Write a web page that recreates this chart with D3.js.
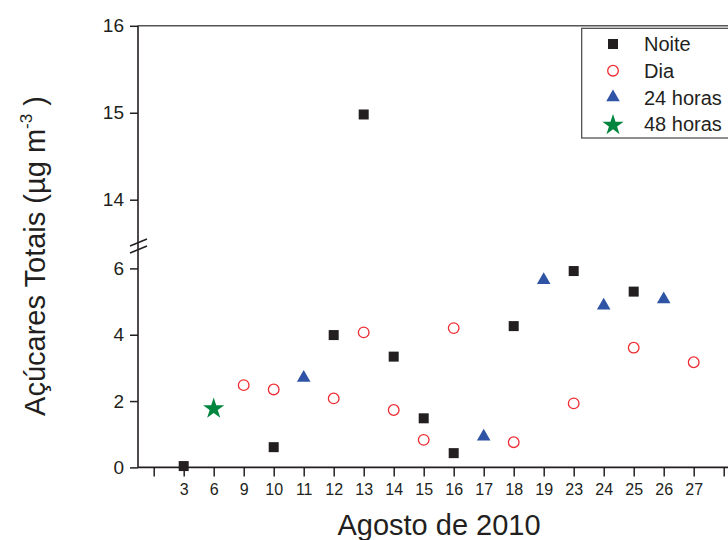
<!DOCTYPE html>
<html><head><meta charset="utf-8">
<script src="https://cdn.jsdelivr.net/npm/d3@7"></script>
<style>body{margin:0;background:#fff}svg{display:block}text{font-family:"Liberation Sans",Arial,sans-serif;fill:#231f20}</style>
</head><body>
<svg id="c" width="728" height="540"></svg>
<script>
const categories = ["3","6","9","10","11","12","13","14","15","16","17","18","19","23","24","25","26","27"];
const noiteDays = ["3","10","12","13","14","15","16","18","23","25"];
const noiteVals = [0.04, 0.61, 3.99, 14.98, 3.34, 1.48, 0.43, 4.26, 5.92, 5.30];
const diaDays = ["9","10","12","13","14","15","16","18","23","25","27"];
const diaVals = [2.48, 2.35, 2.08, 4.07, 1.73, 0.83, 4.20, 0.76, 1.93, 3.61, 3.17];
const h24Days = ["11","17","19","24","26"];
const h24Vals = [2.70, 0.93, 5.65, 4.88, 5.07];
const h48Days = ["6"];
const h48Vals = [1.80];
const lowerTicks = [0, 2, 4, 6];
const upperTicks = [14, 15, 16];
const legendLabels = ["Noite", "Dia", "24 horas", "48 horas"];

const svg = d3.select("#c");
const ink = "#231f20";
const axisX = 138;

const domainX = ["_a", ...categories, "_b"];
const x = d3.scalePoint().domain(domainX).range([153.7, 723.7]);
const yLow = d3.scaleLinear().domain([0, 6]).range([467.4, 268.4]);
const yUp = d3.scaleLinear().domain([14, 16]).range([199.7, 25.8]);
const y = v => v >= 10 ? yUp(v) : yLow(v);

// top frame line
svg.append("line").attr("x1", axisX).attr("x2", 728).attr("y1", yUp(16)).attr("y2", yUp(16))
  .attr("stroke", "#555").attr("stroke-width", 1.4);

// x axis
const xa = svg.append("g").attr("transform", `translate(0,${yLow(0)})`)
  .call(d3.axisBottom(x).tickSize(9).tickPadding(7).tickFormat(d => d.startsWith("_") ? "" : d));
xa.select(".domain").remove();
xa.selectAll(".tick line").attr("stroke", ink).attr("stroke-width", 1.5);
xa.selectAll(".tick text").attr("font-size", 16).style("font-family", "Liberation Sans, Arial, sans-serif").attr("fill", ink);
svg.append("line").attr("x1", axisX).attr("x2", 728).attr("y1", yLow(0)).attr("y2", yLow(0))
  .attr("stroke", ink).attr("stroke-width", 1.6);

// y axes
function styleY(g) {
  g.select(".domain").remove();
  g.selectAll(".tick line").attr("stroke", ink).attr("stroke-width", 1.5);
  g.selectAll(".tick text").attr("font-size", 19).style("font-family", "Liberation Sans, Arial, sans-serif").attr("fill", ink);
}
svg.append("g").attr("transform", `translate(${axisX},0)`)
  .call(d3.axisLeft(yLow).tickValues(lowerTicks).tickSize(8).tickPadding(6).tickFormat(d3.format("d"))).call(styleY);
svg.append("g").attr("transform", `translate(${axisX},0)`)
  .call(d3.axisLeft(yUp).tickValues(upperTicks).tickSize(8).tickPadding(6).tickFormat(d3.format("d"))).call(styleY);
svg.append("line").attr("x1", axisX).attr("x2", axisX).attr("y1", yUp(16)).attr("y2", yLow(0))
  .attr("stroke", ink).attr("stroke-width", 1.6);

// break marks
[[0], [7]].forEach(([o]) => {
  svg.append("line").attr("x1", 130).attr("y1", 246 + o).attr("x2", 147).attr("y2", 239 + o)
    .attr("stroke", ink).attr("stroke-width", 1.5);
});

// points
const zip = (ds, vs) => ds.map((d, i) => ({ d, v: vs[i] }));
svg.append("g").selectAll("rect").data(zip(noiteDays, noiteVals)).join("rect")
  .attr("x", p => x(p.d) - 5).attr("y", p => y(p.v) - 5).attr("width", 10).attr("height", 10).attr("fill", ink);
svg.append("g").selectAll("circle").data(zip(diaDays, diaVals)).join("circle")
  .attr("cx", p => x(p.d)).attr("cy", p => y(p.v)).attr("r", 5.3)
  .attr("fill", "none").attr("stroke", "#ee2b30").attr("stroke-width", 1.3);
const tri = d3.symbol().type(d3.symbolTriangle).size(80);
svg.append("g").selectAll("path").data(zip(h24Days, h24Vals)).join("path")
  .attr("d", tri).attr("transform", p => `translate(${x(p.d)},${y(p.v)})`).attr("fill", "#2f53a5");
const star = d3.symbol().type(d3.symbolStar).size(140);
svg.append("g").selectAll("path").data(zip(h48Days, h48Vals)).join("path")
  .attr("d", star).attr("transform", p => `translate(${x(p.d)},${y(p.v) + 1})`).attr("fill", "#00853e");

// legend
const lg = svg.append("g");
lg.append("rect").attr("x", 581.7).attr("y", 28.3).attr("width", 160).attr("height", 109.7)
  .attr("fill", "#fff").attr("stroke", "#444").attr("stroke-width", 1.2);
const ly = i => 44 + i * 26.7;
const lx = 613;
lg.append("rect").attr("x", lx - 5).attr("y", ly(0) - 5).attr("width", 10).attr("height", 10).attr("fill", ink);
lg.append("circle").attr("cx", lx).attr("cy", ly(1)).attr("r", 5.3).attr("fill", "none").attr("stroke", "#ee2b30").attr("stroke-width", 1.3);
lg.append("path").attr("d", tri).attr("transform", `translate(${lx},${ly(2)})`).attr("fill", "#2f53a5");
lg.append("path").attr("d", star).attr("transform", `translate(${lx},${ly(3) + 1})`).attr("fill", "#00853e");
legendLabels.forEach((t, i) => {
  lg.append("text").attr("x", 644).attr("y", ly(i)).attr("dy", "0.36em").attr("font-size", 20).text(t);
});

// axis titles
svg.append("text").attr("x", 439).attr("y", 535).attr("text-anchor", "middle").attr("font-size", 29).text("Agosto de 2010");
const yt = svg.append("text").attr("transform", "translate(45,256) rotate(-90)").attr("text-anchor", "middle").attr("font-size", 29);
yt.append("tspan").text("Açúcares Totais (µg m");
yt.append("tspan").attr("dy", -13).attr("font-size", 17).text("-3");
yt.append("tspan").attr("dy", 13).text(" )");
</script>
</body></html>
